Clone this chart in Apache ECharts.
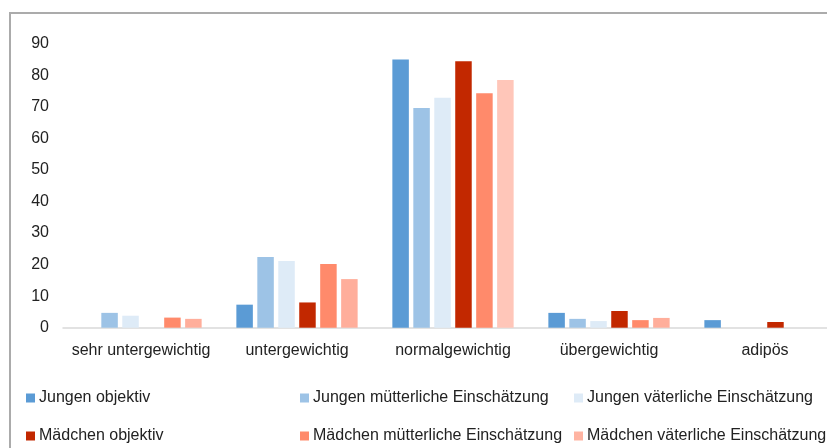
<!DOCTYPE html>
<html>
<head>
<meta charset="utf-8">
<script src="https://cdn.jsdelivr.net/npm/echarts@6/dist/echarts.min.js"></script>
<style>
html,body{margin:0;padding:0;background:#fff;}
#c{width:827px;height:448px;}
</style>
</head>
<body>
<div id="c"></div>
<script>
const categories = ['sehr untergewichtig', 'untergewichtig', 'normalgewichtig', 'übergewichtig', 'adipös'];
const seriesNames = ['Jungen objektiv', 'Jungen mütterliche Einschätzung', 'Jungen väterliche Einschätzung',
                     'Mädchen objektiv', 'Mädchen mütterliche Einschätzung', 'Mädchen väterliche Einschätzung'];
const jungenObjektiv   = [0,   7.3, 85.0, 4.7, 2.4];
const jungenMutter     = [4.7, 22.4, 69.6, 2.8, 0];
const jungenVater      = [3.8, 21.1, 72.9, 2.1, 0];
const maedchenObjektiv = [0,   8.0, 84.4, 5.3, 1.8];
const maedchenMutter   = [3.2, 20.2, 74.3, 2.4, 0];
const maedchenVater    = [2.8, 15.4, 78.5, 3.1, 0];
const yTicks = [0, 10, 20, 30, 40, 50, 60, 70, 80, 90];

const values = [jungenObjektiv, jungenMutter, jungenVater, maedchenObjektiv, maedchenMutter, maedchenVater];
const colors = ['#5B9BD5', '#9DC3E6', '#DEEBF7', '#C22800', '#FF8A6B', '#FFB4A2'];
const font = 'Liberation Sans, Arial, sans-serif';
const fs = 16;

const chart = echarts.init(document.getElementById('c'), null, {renderer: 'canvas'});

const series = values.map((v, i) => ({
  name: seriesNames[i],
  type: 'bar',
  data: v,
  barWidth: 16.5,
  barGap: '27%',
  itemStyle: {
    color: i === 5 ? (p => p.dataIndex === 2 ? '#FFC6B9' : '#FFAE9B') : colors[i]
  },
  emphasis: {disabled: true}
}));

const legendPos = [[26, 390], [300, 390], [574, 390], [26, 428], [300, 428], [574, 428]];
const legendOrder = [0, 1, 2, 3, 4, 5];
const legends = legendOrder.map((si, k) => ({
  left: legendPos[k][0],
  top: legendPos[k][1],
  padding: 0,
  itemWidth: 9,
  itemHeight: 9,
  icon: 'rect',
  selectedMode: false,
  data: [{name: seriesNames[si], itemStyle: {color: colors[si]}}],
  textStyle: {fontFamily: font, fontSize: fs, color: '#222', padding: [0, 0, 0, -1]}
}));

chart.setOption({
  animation: false,
  color: colors,
  grid: {left: 63, width: 780, top: 43.7, bottom: 120.3, containLabel: false, outerBoundsMode: 'none'},
  legend: legends,
  xAxis: {
    type: 'category',
    data: categories,
    axisLine: {lineStyle: {color: '#D9D9D9', width: 1.5}},
    axisTick: {show: false},
    axisLabel: {fontFamily: font, fontSize: fs, color: '#222', margin: 15, interval: 0}
  },
  yAxis: {
    type: 'value',
    min: yTicks[0],
    max: yTicks[yTicks.length - 1],
    interval: yTicks[1] - yTicks[0],
    splitLine: {show: false},
    axisLine: {show: false},
    axisTick: {show: false},
    axisLabel: {fontFamily: font, fontSize: fs, color: '#222', margin: 14}
  },
  graphic: [{
    type: 'rect',
    shape: {x: 10, y: 13, width: 2000, height: 2000},
    style: {fill: 'none', stroke: '#ABABAB', lineWidth: 2},
    silent: true
  }],
  series: series
});
</script>
</body>
</html>
